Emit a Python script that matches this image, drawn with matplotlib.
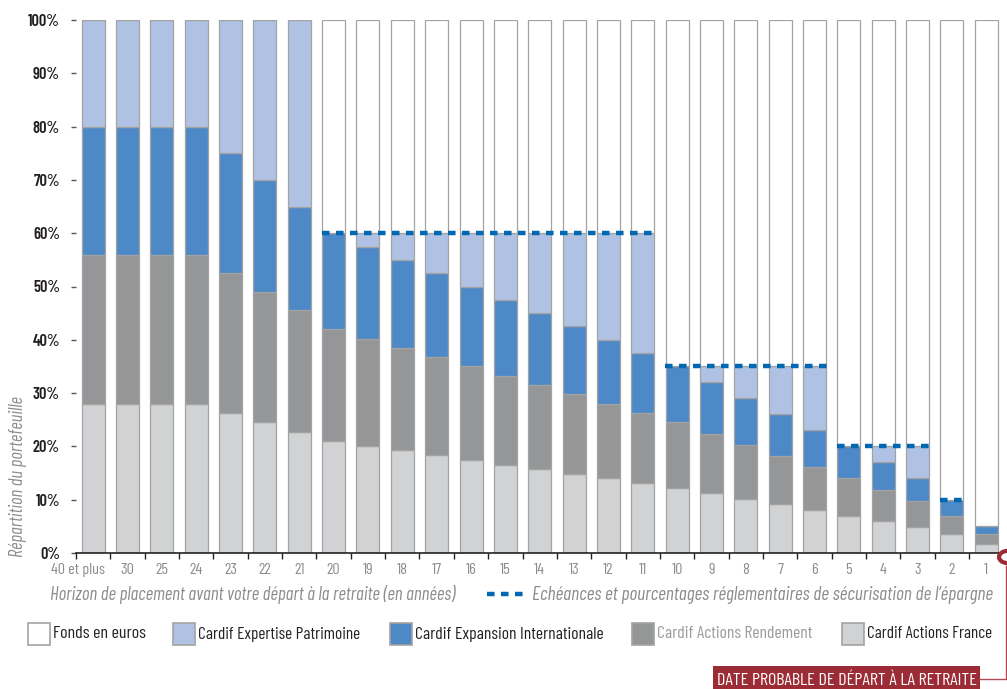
import matplotlib.pyplot as plt
import matplotlib.patches as mpatches
import matplotlib.transforms as mtransforms
import numpy as np

# horizon categories (years before retirement)
horizons = ['40 et plus', '30', '25', '24', '23', '22', '21', '20', '19', '18', '17', '16',
            '15', '14', '13', '12', '11', '10', '9', '8', '7', '6', '5', '4', '3', '2', '1']

# allocation in % (bottom to top)
actions_france = [28, 28, 28, 28, 26.25, 24.5, 22.75, 21, 20.1, 19.25, 18.4, 17.5, 16.6, 15.75,
                  14.9, 14, 13.1, 12.25, 11.2, 10.15, 9.1, 8.05, 7, 5.95, 4.9, 3.5, 1.75]
actions_rendement = [28, 28, 28, 28, 26.25, 24.5, 22.75, 21, 20.1, 19.25, 18.4, 17.5, 16.6, 15.75,
                     14.9, 14, 13.1, 12.25, 11.2, 10.15, 9.1, 8.05, 7, 5.95, 4.9, 3.5, 1.75]
expansion_int = [24, 24, 24, 24, 22.5, 21, 19.5, 18, 17.3, 16.5, 15.7, 15, 14.3, 13.5,
                 12.7, 12, 11.3, 10.5, 9.6, 8.7, 7.8, 6.9, 6, 5.1, 4.2, 3, 1.5]
expertise_patr = [20, 20, 20, 20, 25, 30, 35, 0, 2.5, 5, 7.5, 10, 12.5, 15,
                  17.5, 20, 22.5, 0, 3, 6, 9, 12, 0, 3, 6, 0, 0]
fonds_euros = [0, 0, 0, 0, 0, 0, 0, 40, 40, 40, 40, 40, 40, 40,
               40, 40, 40, 65, 65, 65, 65, 65, 80, 80, 80, 90, 95]

# regulatory thresholds: level, first horizon, last horizon
seuil_niveaux = [60, 35, 20, 10]
seuil_debut = ['20', '10', '5', '2']
seuil_fin = ['11', '6', '3', '2']

series = [
    ('Cardif Actions France', actions_france, '#d1d2d4'),
    ('Cardif Actions Rendement', actions_rendement, '#959698'),
    ('Cardif Expansion Internationale', expansion_int, '#4e89c7'),
    ('Cardif Expertise Patrimoine', expertise_patr, '#afc2e4'),
    ('Fonds en euros', fonds_euros, '#ffffff'),
]

plt.rcParams['font.family'] = ['Barlow Condensed', 'DejaVu Sans']

W, H = 1007, 689
fig = plt.figure(figsize=(W / 100, H / 100), dpi=100)
ax = fig.add_axes([76 / W, 136 / H, 924 / W, 533 / H])
renderer = fig.canvas.get_renderer()


def fit(t, width_px, vertical=False):
    # scale a text so that it spans width_px pixels, as in the reference
    bb = t.get_window_extent(renderer)
    size = bb.height if vertical else bb.width
    t.set_fontsize(t.get_fontsize() * width_px / size)


x = np.arange(len(horizons))
bottom = np.zeros(len(horizons))
for name, vals, col in series:
    vals = np.array(vals)
    ax.bar(x, vals, 0.67, bottom=bottom, color=col, edgecolor='#a3a3a3', linewidth=0.9,
           label=name, zorder=2)
    bottom += vals

dash_col = '#0068b3'
for lvl, a, b in zip(seuil_niveaux, seuil_debut, seuil_fin):
    i0 = horizons.index(a)
    i1 = horizons.index(b)
    ax.plot([i0 - 0.34, i1 + 0.38], [lvl, lvl], color=dash_col, lw=3.2,
            dashes=(1.7, 1.45), solid_capstyle='butt', zorder=4)

ax.set_xlim(-0.47, 26.4)
ax.set_ylim(0, 100)
ax.set_yticks(np.arange(0, 101, 10))
ylabs = ax.set_yticklabels(['%d%%' % v for v in range(0, 101, 10)], fontsize=14,
                           fontweight='semibold', color='#231f20')
ax.tick_params(axis='y', length=3.6, width=1, color='#555555', pad=8)
ax.set_xticks(x)
xlabs = ax.set_xticklabels(horizons, fontsize=13, color='#8c8c8c')
ax.tick_params(axis='x', which='major', length=0, pad=7)
ax.set_xticks(np.arange(-0.5, 26, 1), minor=True)
ax.tick_params(axis='x', which='minor', length=4, width=1, color='#222222')
for s in ['top', 'right', 'left']:
    ax.spines[s].set_visible(False)
ax.spines['bottom'].set_color('#222222')
ax.spines['bottom'].set_linewidth(1.2)

# first label is shifted left so it does not touch "30"
xlabs[0].set_transform(xlabs[0].get_transform() +
                       mtransforms.ScaledTranslation(-15 / 100, 0, fig.dpi_scale_trans))

ylab = fig.text(18 / W, 1 - 557 / H, 'Répartition du portefeuille', rotation=90,
                ha='center', va='bottom', fontsize=13, style='italic', color='#8c8c8c')

# axis caption row
t1 = fig.text(50 / W, 1 - 595 / H, 'Horizon de placement avant votre départ à la retraite (en années)',
              fontsize=14, style='italic', color='#8c8c8c', va='center', ha='left')
fig.add_artist(plt.Line2D([487 / W, 523 / W], [1 - 594 / H, 1 - 594 / H],
                          color=dash_col, lw=3.2, dashes=(1.7, 1.45), solid_capstyle='butt'))
t2 = fig.text(993 / W, 1 - 595 / H,
              'Echéances et pourcentages réglementaires de sécurisation de l\u2019épargne',
              fontsize=14, style='italic', color='#8c8c8c', va='center', ha='right')

# legend row
leg_items = [
    (28, 'Fonds en euros', '#ffffff', '#222222', 93),
    (173, 'Cardif Expertise Patrimoine', '#afc2e4', '#222222', 162),
    (390, 'Cardif Expansion Internationale', '#4e89c7', '#222222', 188),
    (632, 'Cardif Actions Rendement', '#959698', '#9a9a9a', 155),
    (842, 'Cardif Actions France', '#d1d2d4', '#222222', 125),
]
leg_texts = []
for px, lab, col, tcol, wpx in leg_items:
    fig.add_artist(mpatches.Rectangle((px / W, 1 - 645 / H), 22 / W, 22 / H,
                                      facecolor=col, edgecolor='#a3a3a3', lw=1.2,
                                      transform=fig.transFigure))
    t = fig.text((px + 25) / W, 1 - 634 / H, lab, fontsize=14, color=tcol,
                 va='center', ha='left')
    leg_texts.append((t, wpx))

# retirement date marker
red = '#9b2b35'
fig.add_artist(mpatches.Rectangle((713 / W, -10 / H), 267 / W, 33 / H, facecolor=red,
                                  edgecolor='none', transform=fig.transFigure))
t3 = fig.text(847 / W, 1 - 680 / H, 'DATE PROBABLE DE DÉPART À LA RETRAITE', fontsize=14,
              color='white', ha='center', va='center')
fig.add_artist(plt.Line2D([980 / W, 1006 / W, 1006 / W],
                          [1 - 679 / H, 1 - 679 / H, 1 - 566 / H],
                          color='#b04a58', lw=1))
fig.add_artist(mpatches.Circle((1008 / W, 1 - 557 / H), 9 / W,
                               facecolor='none', edgecolor=red, lw=3,
                               transform=fig.transFigure))

# match text widths to the reference
fit(t1, 405)
fit(t2, 461)
fit(t3, 260)
fit(ylab, 160, vertical=True)
for t, wpx in leg_texts:
    fit(t, wpx)
fit(xlabs[0], 54)
for t in xlabs[1:]:
    t.set_fontsize(xlabs[0].get_fontsize())
fit(ylabs[-1], 32)
for t in ylabs[:-1]:
    t.set_fontsize(ylabs[-1].get_fontsize())

fig.savefig('out.png', dpi=100)
